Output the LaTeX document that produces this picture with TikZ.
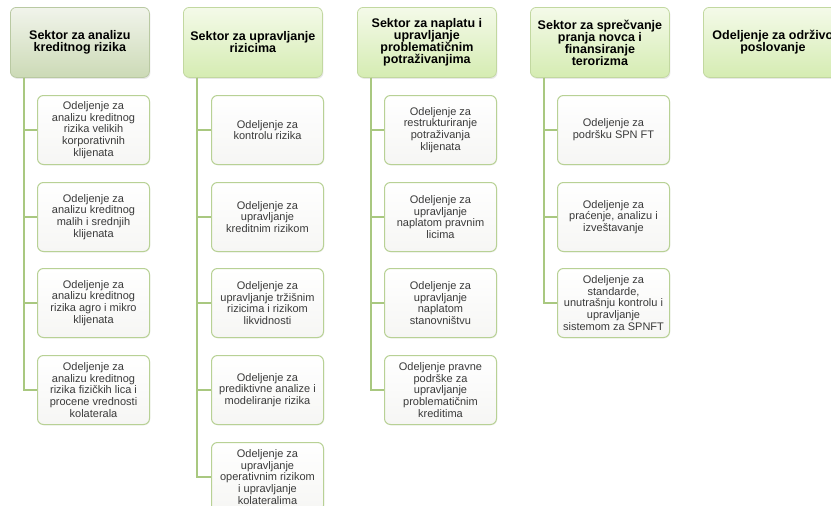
\documentclass[tikz,border=0pt]{standalone}
\usepackage{fontspec}
\setmainfont{Liberation Sans}
\usetikzlibrary{shadows}
\definecolor{connc}{HTML}{A9C880}
\definecolor{hdrborder}{HTML}{C2D8A0}
\definecolor{hdrtop}{HTML}{F4FAE9}
\definecolor{hdrbot}{HTML}{D5ECB2}
\definecolor{hdronetop}{HTML}{F1F4EB}
\definecolor{hdronebot}{HTML}{CCDAB6}
\definecolor{hdroneborder}{HTML}{B9C9A2}
\definecolor{kidborder}{HTML}{B8D195}
\definecolor{kidtop}{HTML}{FFFFFF}
\definecolor{kidbot}{HTML}{F6F6F4}
\definecolor{kidtext}{HTML}{3A3A3A}
\begin{document}
\begin{tikzpicture}[x=1pt,y=-1pt,
  hdr/.style={draw=hdrborder, line width=0.8pt, rounded corners=6pt,
    minimum width=139pt, minimum height=70pt, inner sep=0pt, align=center,
    font=\fontsize{12.5}{12}\selectfont\bfseries, top color=hdrtop, bottom color=hdrbot,
    anchor=north west,
    drop shadow={opacity=0.18, shadow xshift=1pt, shadow yshift=-1.5pt}},
  hdrone/.style={hdr, draw=hdroneborder, top color=hdronetop, bottom color=hdronebot},
  kid/.style={draw=kidborder, line width=1pt, rounded corners=6pt,
    minimum width=112pt, minimum height=69pt, inner sep=0pt, align=center,
    font=\fontsize{11}{11.7}\selectfont, text=kidtext, top color=kidtop, bottom color=kidbot,
    anchor=north west,
    drop shadow={opacity=0.08, shadow xshift=0.8pt, shadow yshift=-1pt}},
  connline/.style={draw=connc, line width=2pt}
]
\useasboundingbox (0,0) rectangle (831,506);
\clip (0,0) rectangle (831,506);
\fill[white] (0,0) rectangle (831,506);

% headers
\node[hdrone] (h1) at (10,7) {Sektor za analizu\\kreditnog rizika};
\node[hdr] (h2) at (183,7) {Sektor za upravljanje\\rizicima};
\node[hdr] (h3) at (357,7) {Sektor za naplatu i\\upravljanje\\problematičnim\\potraživanjima};
\node[hdr] (h4) at (530,7) {Sektor za sprečvanje\\pranja novca i\\finansiranje\\terorizma};
\node[hdr] (h5) at (703,7) {Odeljenje za održivo\\poslovanje};

% column 1
\node[kid] (c11) at (37,95) {Odeljenje za\\analizu kreditnog\\rizika velikih\\korporativnih\\klijenata};
\node[kid] (c12) at (37,182) {Odeljenje za\\analizu kreditnog\\malih i srednjih\\klijenata};
\node[kid] (c13) at (37,268) {Odeljenje za\\analizu kreditnog\\rizika agro i mikro\\klijenata};
\node[kid] (c14) at (37,355) {Odeljenje za\\analizu kreditnog\\rizika fizičkih lica i\\procene vrednosti\\kolaterala};

% column 2
\node[kid] (c21) at (211,95) {Odeljenje za\\kontrolu rizika};
\node[kid] (c22) at (211,182) {Odeljenje za\\upravljanje\\kreditnim rizikom};
\node[kid] (c23) at (211,268) {Odeljenje za\\upravljanje tržišnim\\rizicima i rizikom\\likvidnosti};
\node[kid] (c24) at (211,355) {Odeljenje za\\prediktivne analize i\\modeliranje rizika};
\node[kid] (c25) at (211,442) {Odeljenje za\\upravljanje\\operativnim rizikom\\i upravljanje\\kolateralima};

% column 3
\node[kid] (c31) at (384,95) {Odeljenje za\\restrukturiranje\\potraživanja\\klijenata};
\node[kid] (c32) at (384,182) {Odeljenje za\\upravljanje\\naplatom pravnim\\licima};
\node[kid] (c33) at (384,268) {Odeljenje za\\upravljanje\\naplatom\\stanovništvu};
\node[kid] (c34) at (384,355) {Odeljenje pravne\\podrške za\\upravljanje\\problematičnim\\kreditima};

% column 4
\node[kid] (c41) at (557,95) {Odeljenje za\\podršku SPN FT};
\node[kid] (c42) at (557,182) {Odeljenje za\\praćenje, analizu i\\izveštavanje};
\node[kid] (c43) at (557,268) {Odeljenje za\\standarde,\\unutrašnju kontrolu i\\upravljanje\\sistemom za SPNFT};

% connectors
\foreach \k in {c11,c12,c13,c14}
  \draw[connline] ([xshift=14pt]h1.south west) |- (\k.west);
\foreach \k in {c21,c22,c23,c24,c25}
  \draw[connline] ([xshift=14pt]h2.south west) |- (\k.west);
\foreach \k in {c31,c32,c33,c34}
  \draw[connline] ([xshift=14pt]h3.south west) |- (\k.west);
\foreach \k in {c41,c42,c43}
  \draw[connline] ([xshift=14pt]h4.south west) |- (\k.west);
\end{tikzpicture}
\end{document}
